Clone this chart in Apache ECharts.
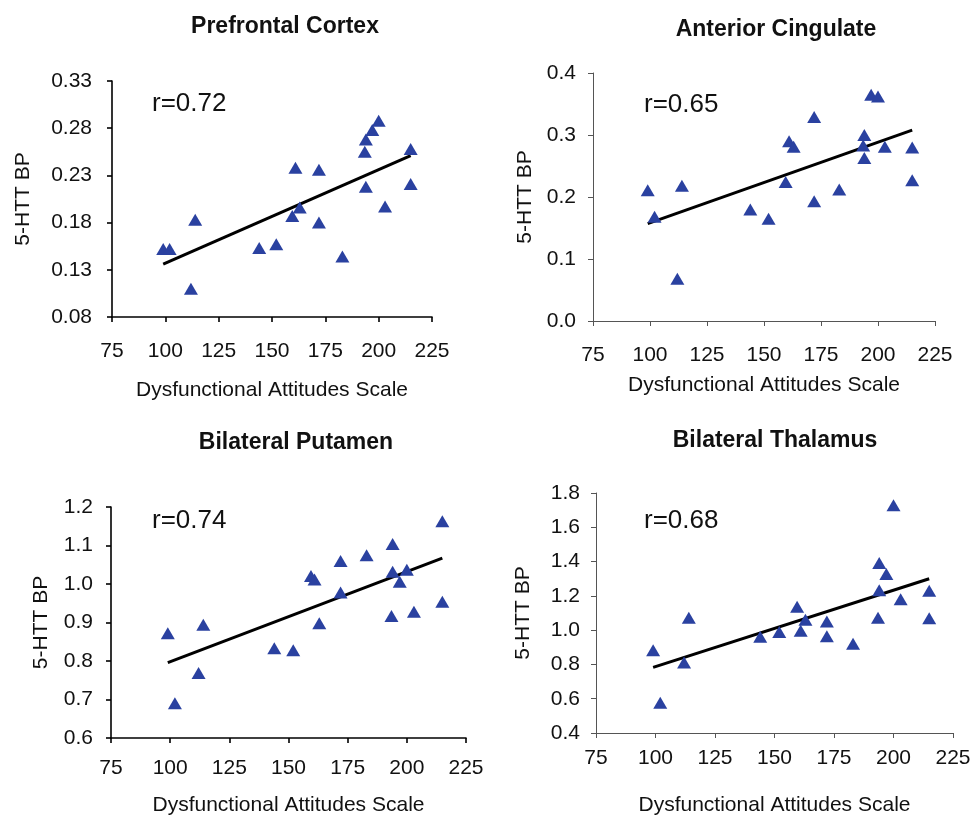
<!DOCTYPE html>
<html>
<head>
<meta charset="utf-8">
<script src="https://cdn.jsdelivr.net/npm/echarts@6/dist/echarts.min.js"></script>
<style>
  html, body { margin: 0; padding: 0; background: #fff; }
  #main { width: 974px; height: 817px; }
</style>
</head>
<body>
<div id="main"></div>
<script>
// DAS score of each subject (shared by all four panels)
const dasScores = [99, 102, 112, 114, 144, 152, 159.5, 161, 163, 172, 172, 183, 193.5, 194, 194, 197, 200, 203, 215, 215];

// 5-HTT BP per region, same subject order
const pfcBP = [0.152, 0.152, 0.110, 0.183, 0.153, 0.157, 0.187, 0.238, 0.196, 0.236, 0.180, 0.144, 0.255, 0.268, 0.218, 0.278, 0.288, 0.197, 0.258, 0.221];
const acBP = [0.211, 0.168, 0.068, 0.218, 0.180, 0.165, 0.224, 0.290, 0.281, 0.329, 0.193, 0.212, 0.283, 0.300, 0.263, 0.365, 0.362, 0.281, 0.280, 0.227];
const putBP = [0.872, 0.690, 0.769, 0.894, 0.833, 0.828, 1.021, 1.012, 0.898, 1.060, 0.978, 1.075, 0.917, 1.104, 1.032, 1.006, 1.037, 0.928, 1.163, 0.954];
const thalBP = [0.882, 0.576, 0.811, 1.073, 0.961, 0.989, 1.137, 0.997, 1.060, 1.050, 0.964, 0.920, 1.073, 1.232, 1.391, 1.328, 1.729, 1.180, 1.230, 1.070];

// regression lines: BP at the two ends of fitRange
const fitRange = [99, 215];
const pfcFit = [0.136, 0.251];
const acFit = [0.157, 0.308];
const putFit = [0.796, 1.067];
const thalFit = [0.783, 1.300];

// tick labels
const xTicks = [75, 100, 125, 150, 175, 200, 225];
const pfcTicks = [0.08, 0.13, 0.18, 0.23, 0.28, 0.33];
const acTicks = [0.0, 0.1, 0.2, 0.3, 0.4];
const putTicks = [0.6, 0.7, 0.8, 0.9, 1.0, 1.1, 1.2];
const thalTicks = [0.4, 0.6, 0.8, 1.0, 1.2, 1.4, 1.6, 1.8];

const titles = ["Prefrontal Cortex", "Anterior Cingulate", "Bilateral Putamen", "Bilateral Thalamus"];
const rValues = ["r=0.72", "r=0.65", "r=0.74", "r=0.68"];

const FONT = "'Liberation Sans', Arial, sans-serif";

// layout of each panel
const panels = [
  { grid: { left: 112, top: 81, width: 320, height: 236 }, bp: pfcBP, fit: pfcFit, ticks: pfcTicks, dec: 2,
    lineColor: "#000", lineW: 1.6, xMargin: 24, xGap: 63, yMargin: 20, yGap: 78, title: [285, 27], r: [152, 104] },
  { grid: { left: 593, top: 73, width: 342, height: 248 }, bp: acBP, fit: acFit, ticks: acTicks, dec: 1,
    lineColor: "#555", lineW: 1, xMargin: 24, xGap: 54, yMargin: 17, yGap: 57, title: [776, 30], r: [644, 105] },
  { grid: { left: 111, top: 507, width: 355, height: 231 }, bp: putBP, fit: putFit, ticks: putTicks, dec: 1,
    lineColor: "#000", lineW: 1.6, xMargin: 20, xGap: 57, yMargin: 18, yGap: 59, title: [296, 443], r: [152, 521] },
  { grid: { left: 596, top: 493, width: 357, height: 244 }, bp: thalBP, fit: thalFit, ticks: thalTicks, dec: 1,
    lineColor: "#555", lineW: 1, xMargin: 15, xGap: 62, yMargin: 16, yGap: 62, title: [775, 441], r: [644, 521] }
];

let grids = [], xAxes = [], yAxes = [], series = [], graphics = [];

panels.forEach((p, i) => {
  grids.push(p.grid);
  xAxes.push({
    type: "value", gridIndex: i, min: 75, max: 225, interval: 25,
    name: "Dysfunctional Attitudes Scale", nameLocation: "middle", nameGap: p.xGap,
    nameTextStyle: { fontFamily: FONT, fontSize: 21, color: "#111" },
    axisLine: { show: true, onZero: false, lineStyle: { color: p.lineColor, width: p.lineW } },
    axisTick: { show: true, inside: false, length: 5, lineStyle: { color: p.lineColor, width: p.lineW },
      customValues: xTicks },
    axisLabel: { fontFamily: FONT, fontSize: 21, color: "#111", margin: p.xMargin, customValues: xTicks },
    splitLine: { show: false }
  });
  yAxes.push({
    type: "value", gridIndex: i, min: p.ticks[0], max: p.ticks[p.ticks.length - 1],
    name: "5-HTT BP", nameLocation: "middle", nameGap: p.yGap,
    nameTextStyle: { fontFamily: FONT, fontSize: 21, color: "#111" },
    axisLine: { show: true, onZero: false, lineStyle: { color: p.lineColor, width: p.lineW } },
    axisTick: { show: true, inside: false, length: 5, lineStyle: { color: p.lineColor, width: p.lineW },
      customValues: p.ticks },
    axisLabel: { fontFamily: FONT, fontSize: 21, color: "#111", margin: p.yMargin, customValues: p.ticks,
      formatter: v => Number(v).toFixed(p.dec) },
    splitLine: { show: false }
  });
  series.push({
    type: "line", xAxisIndex: i, yAxisIndex: i, symbol: "none", silent: true,
    lineStyle: { color: "#000", width: 3 },
    data: [[fitRange[0], p.fit[0]], [fitRange[1], p.fit[1]]],
    z: 2
  });
  series.push({
    type: "scatter", xAxisIndex: i, yAxisIndex: i, symbol: "triangle", symbolSize: [14, 12],
    itemStyle: { color: "#2A41A0", opacity: 1 },
    data: dasScores.map((x, k) => [x, p.bp[k]]),
    z: 3
  });
  graphics.push({
    type: "text", x: p.title[0], y: p.title[1],
    style: { text: titles[i], font: "bold 23px " + FONT, fill: "#111", align: "center", verticalAlign: "middle" }
  });
  graphics.push({
    type: "text", x: p.r[0], y: p.r[1],
    style: { text: rValues[i], font: "26px " + FONT, fill: "#111", align: "left", verticalAlign: "middle" }
  });
});

let myChart = echarts.init(document.getElementById("main"), null, { renderer: "canvas" });
let option = {
  backgroundColor: "#fff",
  animation: false,
  grid: grids,
  xAxis: xAxes,
  yAxis: yAxes,
  series: series,
  graphic: graphics
};
myChart.setOption(option);
</script>
</body>
</html>
